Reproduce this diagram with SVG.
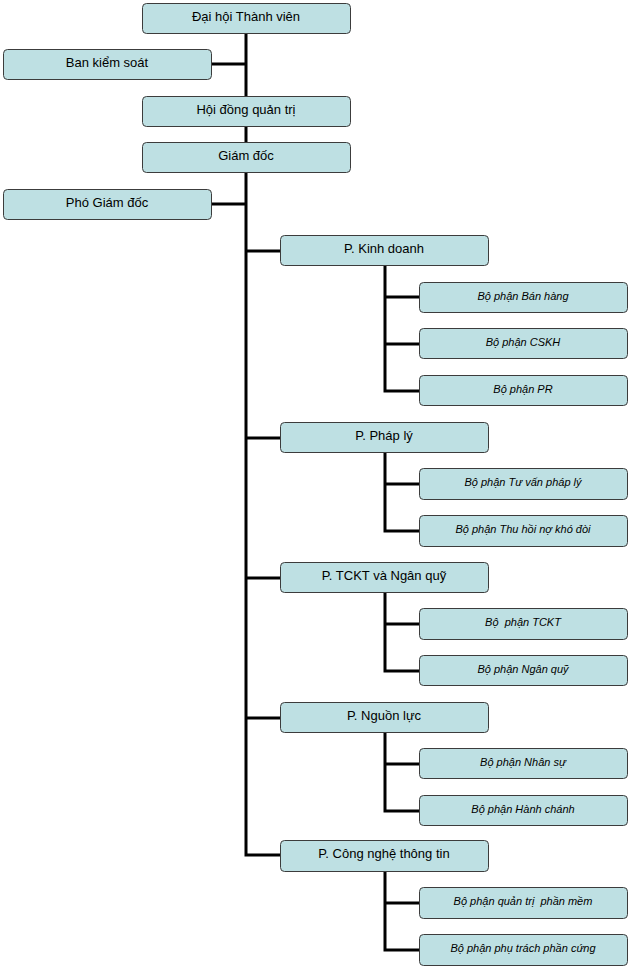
<svg xmlns="http://www.w3.org/2000/svg" width="630" height="969" viewBox="0 0 630 969">
<style>
.box{fill:#bee0e3;stroke:#3c3c3c;stroke-width:1}
.t{font-family:"Liberation Sans",Arial,sans-serif;font-size:13px;fill:#000;text-anchor:middle}
.s{font-family:"Liberation Sans",Arial,sans-serif;font-size:11px;font-style:italic;fill:#000;text-anchor:middle}
.c{fill:none;stroke:#000;stroke-width:3}
</style>
<rect width="630" height="969" fill="#fff"/>
<g id="connectors">
<path class="c" d="M246,33 V855 H280"/>
<path class="c" d="M212,64 H246 M212,204 H246"/>
<path class="c" d="M246,251 H280 M246,438 H280 M246,578 H280 M246,718 H280"/>
<path class="c" d="M385,266 V391 H419 M385,297 H419 M385,344 H419"/>
<path class="c" d="M385,453 V531 H419 M385,484 H419"/>
<path class="c" d="M385,593 V671 H419 M385,624 H419"/>
<path class="c" d="M385,733 V811 H419 M385,764 H419"/>
<path class="c" d="M385,871 V950 H419 M385,903 H419"/>
</g>
<g id="n1"><rect class="box" x="142.5" y="3.5" width="208" height="30" rx="4"/><text class="t" x="246" y="21">Đại hội Thành viên</text></g>
<g id="n2"><rect class="box" x="3.5" y="49.5" width="208" height="30" rx="4"/><text class="t" x="107" y="67">Ban kiểm soát</text></g>
<g id="n3"><rect class="box" x="142.5" y="96.5" width="208" height="30" rx="4"/><text class="t" x="246" y="114">Hội đồng quản trị</text></g>
<g id="n4"><rect class="box" x="142.5" y="142.5" width="208" height="30" rx="4"/><text class="t" x="246" y="160">Giám đốc</text></g>
<g id="n5"><rect class="box" x="3.5" y="189.5" width="208" height="30" rx="4"/><text class="t" x="107" y="207">Phó Giám đốc</text></g>
<g id="p1"><rect class="box" x="280.5" y="235.5" width="208" height="30" rx="4"/><text class="t" x="384" y="253">P. Kinh doanh</text></g>
<g id="p1a"><rect class="box" x="419.5" y="282.5" width="208" height="30" rx="4"/><text class="s" x="523" y="300">Bộ phận Bán hàng</text></g>
<g id="p1b"><rect class="box" x="419.5" y="328.5" width="208" height="30" rx="4"/><text class="s" x="523" y="346">Bộ phận CSKH</text></g>
<g id="p1c"><rect class="box" x="419.5" y="375.5" width="208" height="30" rx="4"/><text class="s" x="523" y="393">Bộ phận PR</text></g>
<g id="p2"><rect class="box" x="280.5" y="422.5" width="208" height="30" rx="4"/><text class="t" x="384" y="440">P. Pháp lý</text></g>
<g id="p2a"><rect class="box" x="419.5" y="468.5" width="208" height="31" rx="4"/><text class="s" x="523" y="486">Bộ phận Tư vấn pháp lý</text></g>
<g id="p2b"><rect class="box" x="419.5" y="515.5" width="208" height="31" rx="4"/><text class="s" x="523" y="533">Bộ phận Thu hồi nợ khó đòi</text></g>
<g id="p3"><rect class="box" x="280.5" y="562.5" width="208" height="30" rx="4"/><text class="t" x="384" y="580">P. TCKT và Ngân quỹ</text></g>
<g id="p3a"><rect class="box" x="419.5" y="608.5" width="208" height="31" rx="4"/><text class="s" x="523" y="626" xml:space="preserve">Bộ  phận TCKT</text></g>
<g id="p3b"><rect class="box" x="419.5" y="655.5" width="208" height="30" rx="4"/><text class="s" x="523" y="673">Bộ phận Ngân quỹ</text></g>
<g id="p4"><rect class="box" x="280.5" y="702.5" width="208" height="30" rx="4"/><text class="t" x="384" y="720">P. Nguồn lực</text></g>
<g id="p4a"><rect class="box" x="419.5" y="748.5" width="208" height="30" rx="4"/><text class="s" x="523" y="766">Bộ phận Nhân sự</text></g>
<g id="p4b"><rect class="box" x="419.5" y="795.5" width="208" height="30" rx="4"/><text class="s" x="523" y="813">Bộ phận Hành chánh</text></g>
<g id="p5"><rect class="box" x="280.5" y="840.5" width="208" height="31" rx="4"/><text class="t" x="384" y="858">P. Công nghệ thông tin</text></g>
<g id="p5a"><rect class="box" x="419.5" y="887.5" width="208" height="31" rx="4"/><text class="s" x="523" y="905" xml:space="preserve">Bộ phận quản trị  phần mềm</text></g>
<g id="p5b"><rect class="box" x="419.5" y="934.5" width="208" height="31" rx="4"/><text class="s" x="523" y="952">Bộ phận phụ trách phần cứng</text></g>
</svg>
